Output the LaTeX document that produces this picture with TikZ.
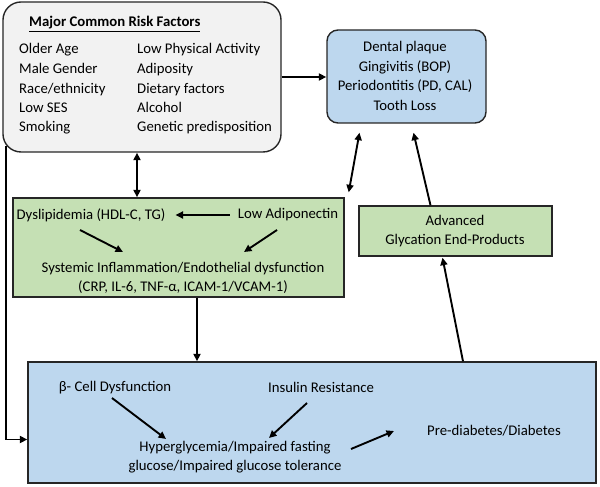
\documentclass[tikz,border=0pt]{standalone}
\usepackage{fontspec}
\setmainfont{Carlito}
\usetikzlibrary{arrows.meta,calc}
\definecolor{riskgray}{HTML}{F2F2F2}
\definecolor{oralblue}{HTML}{BDD7EE}
\definecolor{inflgreen}{HTML}{C5E0B4}
\tikzset{
  box/.style={draw=black!85, line width=1.4pt, inner sep=0pt},
  txt/.style={inner sep=0pt, font=\fontsize{14.8}{19.5}\selectfont, align=center},
  arr/.style={line width=1.9pt, -{Triangle[length=7.5pt,width=7pt]}},
  dbl/.style={line width=1.9pt, {Triangle[length=7.5pt,width=7pt]}-{Triangle[length=7.5pt,width=7pt]}}
}
\begin{document}
\begin{tikzpicture}[x=1bp,y=-1bp]
\useasboundingbox (0,0) rectangle (600,487);
% Boxes
\node[box, rounded corners=18bp, fill=riskgray, minimum width=278bp, minimum height=150bp] (risk) at (142,77) {};
\node[box, rounded corners=11bp, fill=oralblue, minimum width=159bp, minimum height=93bp] (dental) at (406.5,76.5) {};
\node[box, fill=inflgreen, minimum width=331bp, minimum height=99bp] (green) at (178.5,247.5) {};
\node[box, fill=inflgreen, minimum width=193bp, minimum height=50bp] (age) at (455.5,231) {};
\node[box, fill=oralblue, minimum width=568bp, minimum height=121bp] (dm) at (312,422.5) {};
% Risk factors
\node[txt, anchor=base west] (head) at (29,27) {\underline{\textbf{Major Common Risk Factors}}};
\node[txt, anchor=base west] (age1) at (19,54) {Older Age};
\node[txt, anchor=base west] (sex) at (19,74) {Male Gender};
\node[txt, anchor=base west] (race) at (19,94) {Race/ethnicity};
\node[txt, anchor=base west] (ses) at (19,113) {Low SES};
\node[txt, anchor=base west] (smok) at (19,132) {Smoking};
\node[txt, anchor=base west] (phys) at (137,54) {Low Physical Activity};
\node[txt, anchor=base west] (adip) at (137,74) {Adiposity};
\node[txt, anchor=base west] (diet) at (137,94) {Dietary factors};
\node[txt, anchor=base west] (alc) at (137,113) {Alcohol};
\node[txt, anchor=base west] (gene) at (137,132) {Genetic predisposition};
% Oral health
\node[txt] (oral) at (405,76) {Dental plaque\\Gingivitis (BOP)\\Periodontitis (PD, CAL)\\Tooth Loss};
% Inflammation
\node[txt] (dys) at (91,215) {Dyslipidemia (HDL-C, TG)};
\node[txt] (low) at (288,215) {Low Adiponectin};
\node[txt] (sys) at (183,278) {Systemic Inflammation/Endothelial dysfunction\\(CRP, IL-6, TNF-α, ICAM-1/VCAM-1)};
% AGEs
\node[txt] (ages) at (455,231) {Advanced\\Glycation End-Products};
% Diabetes
\node[txt] (beta) at (115,388) {β- Cell Dysfunction};
\node[txt] (ins) at (321,387) {Insulin Resistance};
\node[txt] (hyp) at (235,457) {Hyperglycemia/Impaired fasting\\glucose/Impaired glucose tolerance};
\node[txt] (pre) at (494,431) {Pre-diabetes/Diabetes};
% Connectors
\draw[arr] (risk.east) -- (risk.east -| dental.west);
\draw[dbl] ($(risk.south)+(-5,0)$) -- ($(risk.south |- green.north)+(-5,0)$);
\draw[dbl] ($(green.north east)+(4,-5)$) -- ($(dental.south)+(-47,9)$);
\draw[arr] ($(age.north)+(-25,0)$) -- ($(dental.south)+(7,9)$);
\draw[arr] ($(dm.north)+(151,0)$) -- ($(age.south)+(-13,1)$);
\draw[arr] ($(green.south)+(18.5,0)$) -- ($(green.south |- dm.north)+(18.5,0)$);
\draw[arr] ($(risk.south west)+(4,-7)$) |- ($(dm.west)+(0,17)$);
\draw[arr, shorten <=8bp, shorten >=10bp] (low.west) -- (dys.east);
\draw[arr] ($(dys)+(-11,15)$) -- ($(sys)+(-60,-26)$);
\draw[arr] ($(low)+(-11,15)$) -- ($(sys)+(61,-26)$);
\draw[arr] ($(beta)+(-3,10)$) -- ($(hyp)+(-69,-18)$);
\draw[arr] ($(ins)+(-14,16)$) -- ($(hyp)+(34,-19)$);
\draw[arr] ($(hyp)+(116,-8)$) -- ($(pre)+(-100,0)$);
\end{tikzpicture}
\end{document}
